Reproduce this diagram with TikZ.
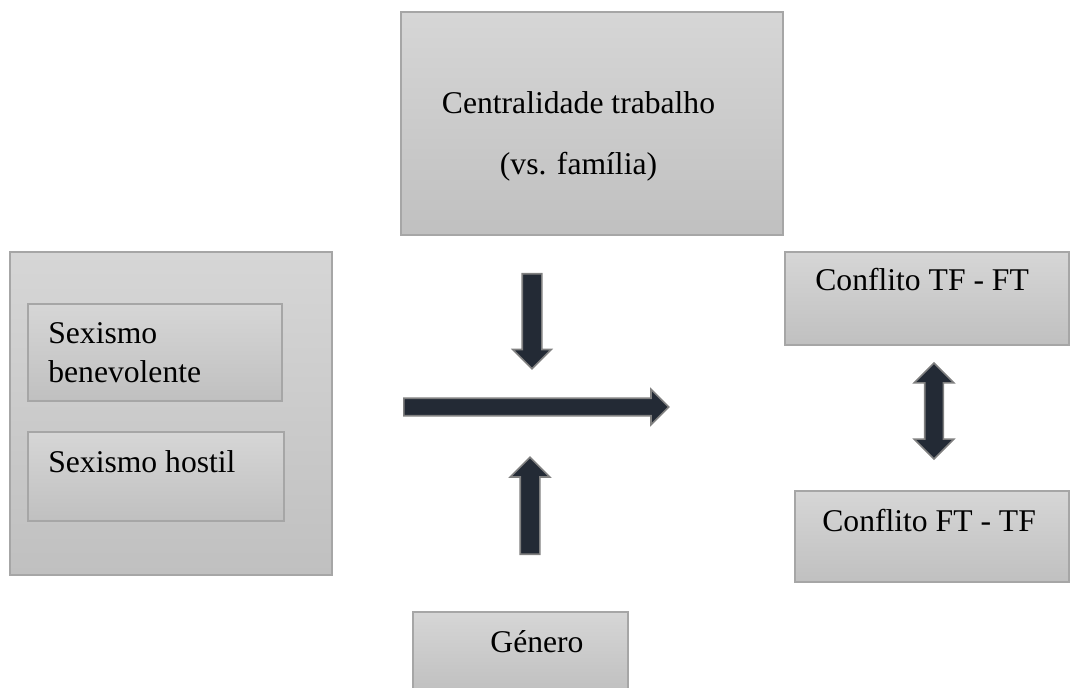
\documentclass[tikz,border=0pt]{standalone}
\usepackage{fontspec}
\setmainfont{Liberation Serif}
\usetikzlibrary{shapes.arrows, fit, positioning}

\definecolor{boxtop}{RGB}{214,214,214}
\definecolor{boxbot}{RGB}{192,192,192}
\definecolor{boxline}{RGB}{166,166,166}
\definecolor{arrowfill}{RGB}{35,42,53}
\definecolor{arrowline}{RGB}{128,128,128}

\begin{document}
\begin{tikzpicture}[
    x=0.02cm, y=-0.02cm,
    % estilos das caixas e do texto
    box/.style={rectangle, draw=boxline, line width=0.6pt, top color=boxtop, bottom color=boxbot, inner sep=0pt},
    txt/.style={inner sep=0pt, anchor=base west, align=left, font=\fontsize{18}{22.2}\selectfont},
    ctxt/.style={txt, anchor=base, align=center},
    % setas em bloco
    blockarrow/.style={single arrow, draw=arrowline, fill=arrowfill, line width=0.9pt, inner xsep=0pt, single arrow tip angle=90, anchor=tail},
    dblockarrow/.style={double arrow, draw=arrowline, fill=arrowfill, line width=0.9pt, inner xsep=0pt, double arrow tip angle=90}
]
\useasboundingbox (0,0) rectangle (1070,688);

% Centralidade trabalho
\node (cent) [box, fit={(401,12) (783,235)}] {};
\node (centtxt) [ctxt, font=\fontsize{18}{35.2}\selectfont] at (578.5,175) {Centralidade trabalho\\(vs. família)};

% --- sexismo ---
\node (sexo) [box, fit={(10,252) (332,575)}] {};
\node (bene) [box, fit={(28,304) (282,401)}] {};
\node (host) [box, fit={(28,432) (284,521)}] {};
\node (benetxt) [txt] at (48,383) {Sexismo\\benevolente};
\node (hosttxt) [txt] at (48,472) {Sexismo hostil};

% --- conflitos ---
\node (tfft) [box, fit={(785,252) (1069,345)}] {};
\node (fttf) [box, fit={(795,491) (1069,582)}] {};
\node (tffttxt) [txt] at (815,291) {Conflito TF - FT};
\node (fttftxt) [txt] at (822,531) {Conflito FT - TF};

% Género
\node (gen) [box, fit={(413,612) (628,692)}] {};
\node (gentxt) [ctxt] at (537,652) {Género};

% --- setas ---
\node (main) [blockarrow, minimum height=5.3cm, inner ysep=0.16cm, single arrow head extend=0.18cm] at (403,407) {};
\node (down) [blockarrow, rotate=-90, minimum height=1.9cm, inner ysep=0.18cm, single arrow head extend=0.19cm] at (532,273) {};
\node (up) [blockarrow, rotate=90, minimum height=1.94cm, inner ysep=0.18cm, single arrow head extend=0.2cm] at (530,555) {};
\node (both) [dblockarrow, rotate=90, minimum height=1.92cm, inner ysep=0.17cm, double arrow head extend=0.21cm] at (934,411) {};

\end{tikzpicture}
\end{document}
